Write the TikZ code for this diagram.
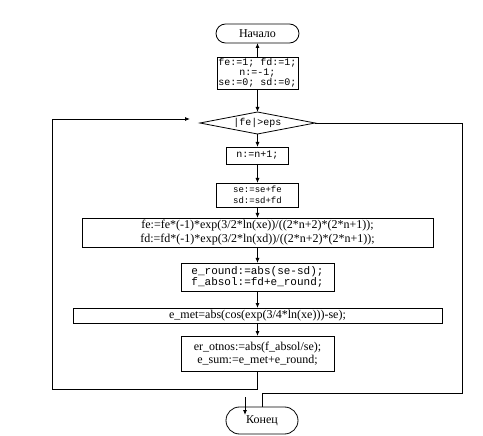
\documentclass[tikz,border=0pt]{standalone}
\usepackage{fontspec}
\setmainfont{Liberation Serif}
\setmonofont{Liberation Mono}
\usetikzlibrary{positioning,arrows.meta,shapes.geometric}

\begin{document}
\begin{tikzpicture}[
  x=1pt,y=1pt,
  line width=0.8pt,
  font=\fontsize{12}{13.5}\selectfont,
  term/.style={draw,rounded corners=9.5pt,minimum height=19pt,inner sep=0pt,
               outer sep=0pt,align=center},
  proc/.style={draw,align=center,inner sep=0pt,outer sep=0pt},
  code/.style={proc,font={\ttfamily\fontsize{10}{10}\selectfont}},
  test/.style={draw,diamond,aspect=5.2,inner sep=0pt,outer sep=0pt,minimum width=115pt,
               minimum height=22pt,font={\ttfamily\fontsize{10}{10}\selectfont}},
  flow/.style={-{Latex[length=5pt,width=4pt]}}
]
\useasboundingbox (0,0) rectangle (483,-436);

\node[term,minimum width=83pt] (start) at (257.5,-33.5) {Начало};
\node[code,minimum width=81pt,minimum height=32pt,below=14pt of start] (init)
  {fe:=1; fd:=1;\\n:=-1;\\se:=0; sd:=0;};
\node[test,below=23pt of init] (cond) {|fe|>eps};
\node[code,minimum width=62pt,minimum height=17pt,below=13pt of cond] (incn) {n:=n+1;};
\node[code,font={\ttfamily\fontsize{9}{11}\selectfont},minimum width=82pt,
      minimum height=24pt,below=19pt of incn] (sums) {se:=se+fe\\sd:=sd+fd};
\node[proc,minimum width=351pt,minimum height=29pt,below=11pt of sums] (terms)
  {fe:=fe*(-1)*exp(3/2*ln(xe))/((2*n+2)*(2*n+1));\\fd:=fd*(-1)*exp(3/2*ln(xd))/((2*n+2)*(2*n+1));};
\node[code,font={\ttfamily\fontsize{11}{11}\selectfont},minimum width=153pt,
      minimum height=28pt,below=16pt of terms] (errs) {e\_round:=abs(se-sd);\\f\_absol:=fd+e\_round;};
\node[proc,minimum width=369pt,minimum height=15pt,below=17pt of errs] (emet)
  {e\_met=abs(cos(exp(3/4*ln(xe)))-se);};
\node[proc,minimum width=153pt,minimum height=35pt,below=13pt of emet] (rel)
  {er\_otnos:=abs(f\_absol/se);\\e\_sum:=e\_met+e\_round;};
\node[term,minimum width=72pt,minimum height=27pt,rounded corners=13.5pt,
      below=36pt of rel,xshift=4.5pt] (stop) {Конец};

% main chain
\draw[flow] (init) -- (start);
\draw[flow] (init) -- (cond);
\draw[flow] (cond) -- (incn);
\draw[flow] (incn) -- (sums);
\draw[flow] (sums) -- (terms);
\draw[flow] (terms) -- (errs);
\draw[flow] (errs) -- (emet);
\draw[flow] (emet) -- (rel);

% loop back and exit
\coordinate (back) at (52,-389);
\coordinate (entry) at (190,-119);
\draw[flow] (rel.south) |- (back) |- (entry);
\coordinate (exitc) at (462,-393);
\draw (cond.east) -| (exitc) -| (stop.north);
\coordinate (stub) at (245,-397);
\coordinate (stubend) at (245,-415);
\draw[flow] (stub) -- (stubend);
\end{tikzpicture}
\end{document}
